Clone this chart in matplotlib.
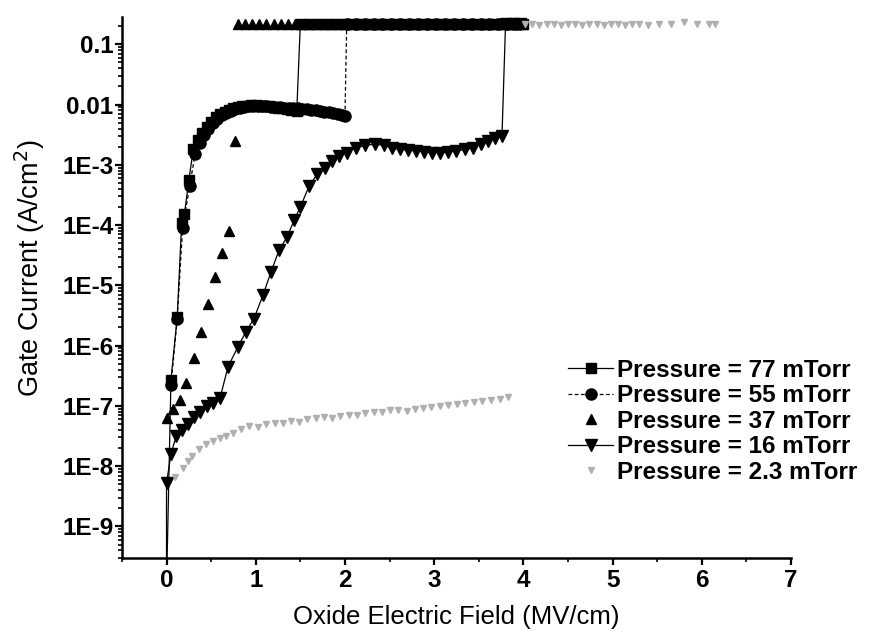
import matplotlib
matplotlib.use("Agg")
import matplotlib.pyplot as plt
from matplotlib.ticker import LogLocator, FixedLocator, NullFormatter

plt.rcParams['font.family'] = ['Liberation Sans', 'DejaVu Sans']

# 77 mTorr (squares, solid line)
p77_x = [0.0, 0.05, 0.12, 0.17, 0.20, 0.25, 0.30, 0.35, 0.40, 0.45, 0.50, 0.55, 0.60,
         0.65, 0.70, 0.75, 0.80, 0.85, 0.90, 0.95, 1.00, 1.05, 1.10, 1.15, 1.20, 1.25,
         1.30, 1.35, 1.40, 1.46,
         1.50, 1.60, 1.70, 1.80, 1.90, 2.00, 2.10, 2.20, 2.30, 2.40, 2.50, 2.60, 2.70,
         2.80, 2.90, 3.00, 3.10, 3.20, 3.30, 3.40, 3.50, 3.60, 3.70, 3.80, 3.90, 4.00]
p77_y = [1e-10, 2.7e-7, 3.0e-6, 1.1e-4, 1.5e-4, 5.5e-4, 1.8e-3, 2.6e-3, 3.4e-3, 4.3e-3,
         5.2e-3, 6.1e-3, 6.9e-3, 7.6e-3, 8.2e-3, 8.7e-3, 9.1e-3, 9.4e-3, 9.6e-3, 9.7e-3,
         9.7e-3, 9.6e-3, 9.5e-3, 9.3e-3, 9.1e-3, 8.9e-3, 8.6e-3, 8.3e-3, 8.0e-3, 7.8e-3,
         0.22, 0.22, 0.22, 0.22, 0.22, 0.22, 0.22, 0.22, 0.22, 0.22, 0.22, 0.22, 0.22,
         0.22, 0.22, 0.22, 0.22, 0.22, 0.22, 0.22, 0.22, 0.22, 0.22, 0.22, 0.22, 0.22]

# 55 mTorr (circles, dashed line)
p55_x = [0.05, 0.12, 0.18, 0.26, 0.32, 0.37, 0.42, 0.47, 0.52, 0.57, 0.62, 0.67, 0.72,
         0.77, 0.82, 0.87, 0.92, 0.97, 1.02, 1.07, 1.12, 1.17, 1.22, 1.27, 1.32, 1.37,
         1.42, 1.47, 1.52, 1.57, 1.62, 1.67, 1.72, 1.77, 1.82, 1.87, 1.92, 1.97, 2.00,
         2.02, 2.12, 2.22, 2.32, 2.42, 2.52, 2.62, 2.72, 2.82, 2.92, 3.02, 3.12, 3.22,
         3.32, 3.42, 3.52, 3.62, 3.72, 3.82, 3.92]
p55_y = [2.2e-7, 2.8e-6, 9.0e-5, 4.5e-4, 1.5e-3, 2.3e-3, 3.1e-3, 4.0e-3, 4.9e-3, 5.8e-3,
         6.6e-3, 7.3e-3, 7.9e-3, 8.4e-3, 8.8e-3, 9.1e-3, 9.3e-3, 9.4e-3, 9.4e-3, 9.4e-3,
         9.3e-3, 9.2e-3, 9.1e-3, 9.0e-3, 8.9e-3, 8.8e-3, 8.7e-3, 8.6e-3, 8.5e-3, 8.4e-3,
         8.2e-3, 8.0e-3, 7.8e-3, 7.6e-3, 7.4e-3, 7.2e-3, 7.0e-3, 6.7e-3, 6.5e-3,
         0.22, 0.22, 0.22, 0.22, 0.22, 0.22, 0.22, 0.22, 0.22, 0.22, 0.22, 0.22, 0.22,
         0.22, 0.22, 0.22, 0.22, 0.22, 0.22, 0.22]

# 37 mTorr (up triangles, no line)
p37_x = [0.00, 0.07, 0.15, 0.22, 0.31, 0.39, 0.46, 0.54, 0.62, 0.70, 0.77,
         0.80, 0.88, 0.96, 1.04, 1.12, 1.20, 1.28, 1.36, 1.44, 1.52, 1.60, 1.68, 1.76,
         1.84, 1.92, 2.00, 2.08, 2.16, 2.24, 2.32, 2.40, 2.48, 2.56, 2.64, 2.72, 2.80,
         2.88, 2.96, 3.04, 3.12, 3.20, 3.28, 3.36, 3.44, 3.52, 3.60, 3.68, 3.76, 3.84,
         3.92, 4.00]
p37_y = [6.3e-8, 9.0e-8, 1.26e-7, 2.4e-7, 6.3e-7, 1.7e-6, 5.0e-6, 1.4e-5, 3.5e-5, 8.0e-5,
         2.5e-3,
         0.22, 0.22, 0.22, 0.22, 0.22, 0.22, 0.22, 0.22, 0.22, 0.22, 0.22, 0.22, 0.22,
         0.22, 0.22, 0.22, 0.22, 0.22, 0.22, 0.22, 0.22, 0.22, 0.22, 0.22, 0.22, 0.22,
         0.22, 0.22, 0.22, 0.22, 0.22, 0.22, 0.22, 0.22, 0.22, 0.22, 0.22, 0.22, 0.22,
         0.22, 0.22]

# 16 mTorr (down triangles, solid line)
p16_x = [0.00, 0.00, 0.05, 0.11, 0.17, 0.24, 0.31, 0.38, 0.45, 0.52, 0.60, 0.69, 0.80,
         0.89, 0.98, 1.08, 1.17, 1.26, 1.35, 1.43, 1.50, 1.60, 1.69, 1.78, 1.86, 1.93,
         2.02, 2.12, 2.22, 2.34, 2.44, 2.53, 2.62, 2.71, 2.80, 2.89, 2.98, 3.07, 3.16,
         3.25, 3.34, 3.43, 3.52, 3.60, 3.68, 3.76, 3.80, 3.88, 3.96]
p16_y = [1e-10, 5.2e-9, 1.6e-8, 3.2e-8, 4.0e-8, 5.1e-8, 6.6e-8, 8.0e-8, 9.8e-8, 1.1e-7,
         1.35e-7, 4.5e-7, 9.5e-7, 1.7e-6, 2.8e-6, 6.8e-6, 1.65e-5, 3.8e-5, 6.3e-5, 1.2e-4,
         2.0e-4, 4.5e-4, 7.0e-4, 9.0e-4, 1.15e-3, 1.4e-3, 1.6e-3, 1.9e-3, 2.1e-3, 2.2e-3,
         2.1e-3, 1.9e-3, 1.8e-3, 1.75e-3, 1.7e-3, 1.65e-3, 1.6e-3, 1.6e-3, 1.65e-3,
         1.7e-3, 1.8e-3, 1.9e-3, 2.2e-3, 2.5e-3, 2.8e-3, 3.0e-3, 0.22, 0.22, 0.22]

# 2.3 mTorr (faint grey points)
p23_x = [0.10, 0.18, 0.24, 0.29, 0.36, 0.44, 0.52, 0.60, 0.67, 0.75, 0.84, 0.93, 1.02,
         1.12, 1.22, 1.31, 1.40, 1.49, 1.58, 1.68, 1.77, 1.86, 1.95, 2.04, 2.14, 2.23,
         2.32, 2.42, 2.51, 2.60, 2.70, 2.79, 2.88, 2.97, 3.07, 3.16, 3.26, 3.35, 3.45,
         3.54, 3.64, 3.74, 3.83,
         4.02, 4.10, 4.18, 4.26, 4.34, 4.42, 4.50, 4.58, 4.66, 4.74, 4.82, 4.90, 4.98,
         5.06, 5.14, 5.22, 5.30, 5.40, 5.52, 5.66, 5.80, 5.95, 6.08, 6.15]
p23_y = [6.5e-9, 9.3e-9, 1.2e-8, 1.45e-8, 1.9e-8, 2.3e-8, 2.6e-8, 2.9e-8, 3.2e-8, 3.6e-8,
         4.1e-8, 4.6e-8, 4.4e-8, 5.0e-8, 5.3e-8, 5.2e-8, 5.6e-8, 5.5e-8, 6.0e-8, 6.2e-8,
         6.5e-8, 6.4e-8, 6.9e-8, 7.1e-8, 7.0e-8, 7.6e-8, 7.8e-8, 8.0e-8, 8.4e-8, 8.5e-8,
         8.3e-8, 9.0e-8, 9.3e-8, 9.6e-8, 1.0e-7, 1.04e-7, 1.06e-7, 1.1e-7, 1.15e-7,
         1.2e-7, 1.25e-7, 1.32e-7, 1.4e-7,
         0.22, 0.22, 0.21, 0.22, 0.22, 0.21, 0.22, 0.22, 0.21, 0.22, 0.22, 0.21, 0.22,
         0.22, 0.21, 0.22, 0.22, 0.21, 0.22, 0.22, 0.23, 0.22, 0.22, 0.22]

labels = ["Pressure = 77 mTorr", "Pressure = 55 mTorr", "Pressure = 37 mTorr",
          "Pressure = 16 mTorr", "Pressure = 2.3 mTorr"]

fig = plt.figure(figsize=(8.77, 6.41), dpi=100)
ax = fig.add_axes([0.139, 0.1295, 0.763, 0.8435])

ax.plot(p77_x, p77_y, ls='-', color='black', lw=0.9, marker='s', ms=7.5, label=labels[0])
ax.plot(p55_x, p55_y, ls='--', color='black', lw=0.9, marker='o', ms=8, dashes=(3, 2),
        label=labels[1])
ax.plot(p37_x, p37_y, ls='none', color='black', marker='^', ms=7.5, label=labels[2])
ax.plot(p16_x, p16_y, ls='-', color='black', lw=0.9, marker='v', ms=8.5, label=labels[3])
ax.plot(p23_x, p23_y, ls='none', color='#b0b0b0', marker='v', ms=4, label=labels[4])

ax.set_yscale('log')
ax.set_xlim(-0.5, 7)
ax.set_ylim(3e-10, 0.28)

ax.spines['top'].set_visible(False)
ax.spines['right'].set_visible(False)
ax.spines['left'].set_linewidth(1.8)
ax.spines['bottom'].set_linewidth(1.8)

ax.xaxis.set_major_locator(FixedLocator([0, 1, 2, 3, 4, 5, 6, 7]))
ax.xaxis.set_minor_locator(FixedLocator([-0.5, 0.5, 1.5, 2.5, 3.5, 4.5, 5.5, 6.5]))
ax.yaxis.set_minor_locator(LogLocator(base=10, subs=range(2, 10), numticks=20))
ax.yaxis.set_minor_formatter(NullFormatter())
ax.set_yticks([1e-9, 1e-8, 1e-7, 1e-6, 1e-5, 1e-4, 1e-3, 1e-2, 1e-1])
ax.set_yticklabels(["1E-9", "1E-8", "1E-7", "1E-6", "1E-5", "1E-4", "1E-3", "0.01", "0.1"])

ax.tick_params(which='major', direction='out', length=5, width=1.6, labelsize=17.5)
ax.tick_params(axis='x', which='major', pad=3)
ax.tick_params(axis='y', which='major', pad=1)
ax.tick_params(which='minor', direction='out', length=3, width=1.2)
for t in ax.get_xticklabels() + ax.get_yticklabels():
    t.set_fontweight('bold')

ax.set_xlabel("Oxide Electric Field (MV/cm)", fontsize=18.5, labelpad=9)
ax.set_ylabel("Gate Current (A/cm$^2$)", fontsize=19.5)
ax.yaxis.set_label_coords(-0.112, 0.536)

leg = ax.legend(loc='upper left', bbox_to_anchor=(0.648, 0.44),
                bbox_transform=fig.transFigure, frameon=False, numpoints=1,
                prop={'size': 17.5, 'weight': 'bold'}, handlelength=1.85,
                handletextpad=0.17, labelspacing=0.1, borderpad=0, borderaxespad=0)

fig.savefig("out.png", dpi=100)
